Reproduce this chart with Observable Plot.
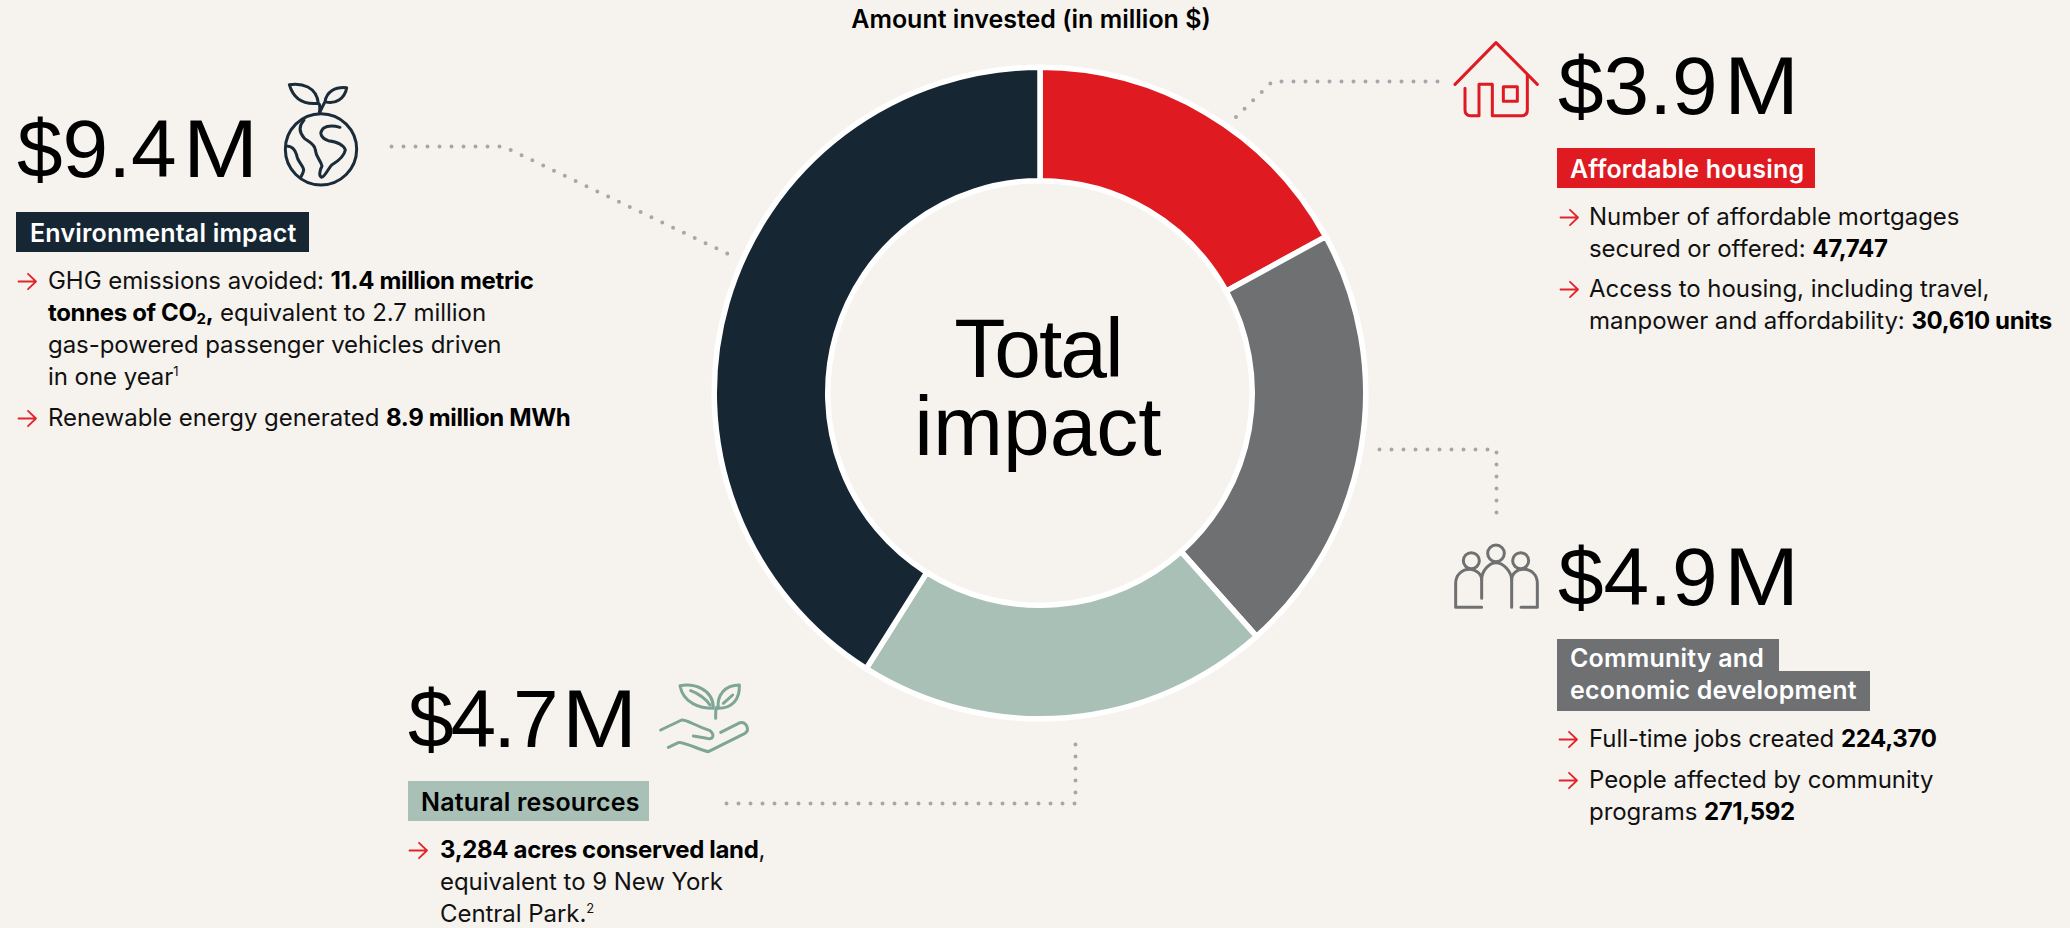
<!DOCTYPE html>
<html lang="en">
<head>
<meta charset="utf-8">
<title>Total impact</title>
<script src="https://cdn.jsdelivr.net/npm/d3@7"></script>
<script src="https://cdn.jsdelivr.net/npm/@observablehq/plot@0.6"></script>
<style>
  html, body { margin: 0; padding: 0; background: #f6f3ee; }
  #page { position: relative; width: 2070px; height: 928px; overflow: hidden; background: #f6f3ee; color: #000; font-family: "Inter", sans-serif; }
  #page svg.plot { position: absolute; left: 0; top: 0; background: transparent; }
  .abs { position: absolute; white-space: nowrap; line-height: 1; }
  .big { font-family: "Liberation Sans", sans-serif; font-size: 82px; font-weight: 400; }
  .big .gap { display: inline-block; margin-left: 6px; transform: scaleX(1.1); transform-origin: left center; }
  .center { font-family: "Liberation Sans", sans-serif; font-size: 84px; text-align: center; line-height: 78px; }
  .center span { letter-spacing: -2px; }
  .title { font-weight: 600; font-size: 25px; letter-spacing: 0; }
  .pill { font-weight: 600; font-size: 25px; letter-spacing: 0.2px; color: #fff; }
  .body { font-size: 24px; letter-spacing: -0.05px; color: #111; }
  .body b { font-weight: 700; color: #000; letter-spacing: -0.35px; }
  .body sup { font-size: 13px; line-height: 0; vertical-align: 9px; }
  .body sub { font-size: 15px; line-height: 0; vertical-align: -3px; }
  .rect { position: absolute; }
  svg.icon { position: absolute; overflow: visible; fill: none; stroke-linecap: round; stroke-linejoin: round; }
</style>
</head>
<body>
<div id="page"></div>
<script>
// ---- Data -------------------------------------------------------------
const categories = ["Affordable housing", "Community and economic development", "Natural resources", "Environmental impact"];
const amounts = [3.9, 4.9, 4.7, 9.4];
const amountLabels = ["$3.9", "$4.9", "$4.7", "$9.4"];
const sliceColors = ["#df1a21", "#6f7072", "#a8c0b6", "#162633"];
const chartTitle = "Amount invested (in million $)";
const centerLines = ["Total", "impact"];
const pillLines = [["Affordable housing"], ["Community and", "economic development"], ["Natural resources"], ["Environmental impact"]];
const bulletLines = [
  [["Number of affordable mortgages", "secured or offered: <b>47,747</b>"],
   ["Access to housing, including travel,", "manpower and affordability: <b>30,610 units</b>"]],
  [["Full-time jobs created <b>224,370</b>"],
   ["People affected by community", "programs <b>271,592</b>"]],
  [["<b>3,284 acres conserved land</b>,", "equivalent to 9 New York", "Central Park.<sup>2</sup>"]],
  [["GHG emissions avoided: <b>11.4 million metric</b>", "<b>tonnes of CO<sub>2</sub>,</b> equivalent to 2.7 million", "gas-powered passenger vehicles driven", "in one year<sup>1</sup>"],
   ["Renewable energy generated <b>8.9 million MWh</b>"]]
];

// ---- Layout -----------------------------------------------------------
const W = 2070, H = 928;
const donut = {cx: 1040, cy: 393, inner: 215, outer: 323, gap: 5.5, halo: 5};
const leaders = [
  [[1437, 81], [1272, 81], [1233, 119]],
  [[1379, 449], [1496, 449], [1496, 519]],
  [[726, 803], [1075, 803], [1075, 737]],
  [[391, 146], [503, 146], [735, 257]]
];
const lineStep = 32;
const blocks = [
  {bigX: 1558, bigBase: 114, bigTrack: 0, pillX: 1557, pillY: 148, pillPad: 13, pillHeights: [40], pillWidths: [258], pillText: "#fff",
   arrowX: 1560, textX: 1589, bases: [225, 297]},
  {bigX: 1558, bigBase: 605, bigTrack: 0, pillX: 1557, pillY: 639, pillPad: 13, pillHeights: [32, 40], pillWidths: [222, 313], pillText: "#fff",
   arrowX: 1559, textX: 1589, bases: [747, 788]},
  {bigX: 408, bigBase: 747, bigTrack: -3, pillX: 408, pillY: 781, pillPad: 13, pillHeights: [40], pillWidths: [241], pillText: "#000",
   arrowX: 409, textX: 440, bases: [858]},
  {bigX: 17, bigBase: 177, bigTrack: 0, pillX: 16, pillY: 212, pillPad: 14, pillHeights: [40], pillWidths: [293], pillText: "#fff",
   arrowX: 18, textX: 48, bases: [289, 426]}
];

// ---- Donut and leaders, through Plot's scales --------------------------
const slices = categories.map((category, i) => ({category, value: amounts[i]}));
const arc = d3.arc().innerRadius(donut.inner - donut.gap / 2).outerRadius(donut.outer + donut.gap / 2);
const halo = d3.arc().innerRadius(donut.inner - donut.halo).outerRadius(donut.outer + donut.halo);

const chart = Plot.plot({
  width: W, height: H,
  margin: 0,
  style: {background: "transparent"},
  x: {domain: [0, d3.sum(amounts)], range: [0, 2 * Math.PI], axis: null},
  y: {axis: null},
  color: {domain: categories, range: sliceColors},
  marks: [
    Plot.barX(slices, Plot.stackX({
      x: "value", fill: "category", order: null,
      render(index, scales, values) {
        const g = d3.create("svg:g").attr("transform", `translate(${donut.cx},${donut.cy})`);
        g.append("path").attr("d", halo({startAngle: 0, endAngle: 2 * Math.PI})).attr("fill", "#fff");
        for (const i of index) {
          g.append("path")
            .attr("d", arc({startAngle: values.x1[i], endAngle: values.x2[i]}))
            .attr("fill", values.fill[i])
            .attr("stroke", "#fff")
            .attr("stroke-width", donut.gap)
            .attr("stroke-linejoin", "miter");
        }
        return g.node();
      }
    })),
    ...leaders.map(points => Plot.line(points, {
      x: {value: d => d[0], scale: null},
      y: {value: d => d[1], scale: null},
      stroke: "#a6a7ab", strokeWidth: 4, strokeLinecap: "round", strokeDasharray: "0 12"
    }))
  ]
});

// ---- Text, labels and icons --------------------------------------------
const page = document.getElementById("page");
page.appendChild(chart);

function addText(cls, html, x, baseline, size, extra = {}) {
  const el = document.createElement("div");
  el.className = "abs " + cls;
  el.innerHTML = html;
  el.style.left = x + "px";
  el.style.top = (baseline - size * 0.84) + "px";
  Object.assign(el.style, extra);
  page.appendChild(el);
  return el;
}

addText("title", chartTitle, 851, 28, 25, {width: "360px", textAlign: "center"});
addText("center", `<span>${centerLines[0]}</span><br>${centerLines[1]}`, donut.cx - 150, 380, 84, {width: "296px", top: "309px"});

blocks.forEach((b, i) => {
  addText("big", `${amountLabels[i]}<span class="gap">M</span>`, b.bigX, b.bigBase, 82, {letterSpacing: b.bigTrack + "px"});
  let y = b.pillY;
  pillLines[i].forEach((line, j) => {
    const r = document.createElement("div");
    r.className = "rect";
    Object.assign(r.style, {left: b.pillX + "px", top: y + "px", width: b.pillWidths[j] + "px", height: b.pillHeights[j] + "px", background: sliceColors[i]});
    page.appendChild(r);
    y += b.pillHeights[j];
  });
  const n = pillLines[i].length;
  pillLines[i].forEach((line, j) => {
    const base = b.pillY + 30 - (n > 1 ? 2 : 0) + j * lineStep;
    addText("pill", line, b.pillX + b.pillPad, base, 25, {color: b.pillText});
  });
  bulletLines[i].forEach((item, k) => {
    const svg = d3.create("svg").attr("class", "icon").attr("width", 19).attr("height", 17)
      .style("left", b.arrowX + "px").style("top", (b.bases[k] - 16.5) + "px");
    svg.append("path").attr("d", "M0.5 8.5H18M10 0.8L18 8.5L10 16.2").attr("stroke", "#e3242b").attr("stroke-width", 1.8);
    page.appendChild(svg.node());
    item.forEach((line, l) => addText("body", line, b.textX, b.bases[k] + l * lineStep, 24));
  });
});

function icon(x, y, w, h, color, draw) {
  const svg = d3.create("svg").attr("class", "icon").attr("viewBox", `0 0 ${w} ${h}`)
    .attr("width", w / 3).attr("height", h / 3).style("left", x + "px").style("top", y + "px")
    .attr("stroke", color).attr("stroke-width", 9);
  draw(svg);
  page.appendChild(svg.node());
}
const paths = (svg, ds) => ds.forEach(d => svg.append("path").attr("d", d));

icon(260, 70, 360, 390, "#1a2c3a", s => {
  s.append("circle").attr("cx", 183).attr("cy", 238).attr("r", 107);
  paths(s, [
    "M178 130C180 112 182 104 175 100C130 105 100 85 88 44C125 38 170 50 175 100",
    "M178 130C186 112 190 104 195 95C200 65 225 50 260 53C255 85 225 105 195 95",
    "M240 172C225 168 205 165 190 175C175 190 185 205 205 212C230 215 250 222 256 240C252 262 232 275 215 285C205 295 195 320 185 322C175 318 180 300 186 288C182 270 168 262 166 240C165 222 145 215 133 205C120 190 112 172 132 150",
    "M80 228C95 228 105 238 110 255C112 275 130 285 131 300C130 310 125 316 122 322"
  ]);
});
icon(1440, 30, 330, 300, "#df1a21", s => {
  paths(s, [
    "M45 163L168 38L292 163",
    "M75 175V240Q75 257 92 257H117V163H157V257H245Q262 257 262 240V135",
    "M190 170H232V214H190Z"
  ]);
});
icon(1440, 530, 330, 270, "#6f7072", s => {
  [[94, 92, 24], [168, 70, 25], [242, 92, 24]].forEach(([cx, cy, r]) => s.append("circle").attr("cx", cx).attr("cy", cy).attr("r", r));
  paths(s, [
    "M125 205V150C125 130 105 118 90 118C65 118 47 135 47 160V232H125",
    "M125 150C125 120 150 98 168 98C190 98 215 125 215 150V232",
    "M215 150C215 130 232 118 250 118C275 118 292 135 292 160V232H243"
  ]);
});
icon(650, 670, 330, 270, "#7fa596", s => {
  paths(s, [
    "M90 47C130 40 190 55 190 115C150 115 100 100 90 47Z",
    "M122 62C145 70 170 88 180 105",
    "M197 145C197 120 197 105 203 115",
    "M268 45C225 45 200 75 205 115C245 115 270 90 268 45Z",
    "M220 100L248 75",
    "M32 180L95 150C110 148 130 165 180 182C195 195 190 210 170 205L130 198",
    "M212 187L270 158C290 155 300 180 285 190L175 245C150 240 100 215 85 218L55 232"
  ]);
});
</script>
</body>
</html>
